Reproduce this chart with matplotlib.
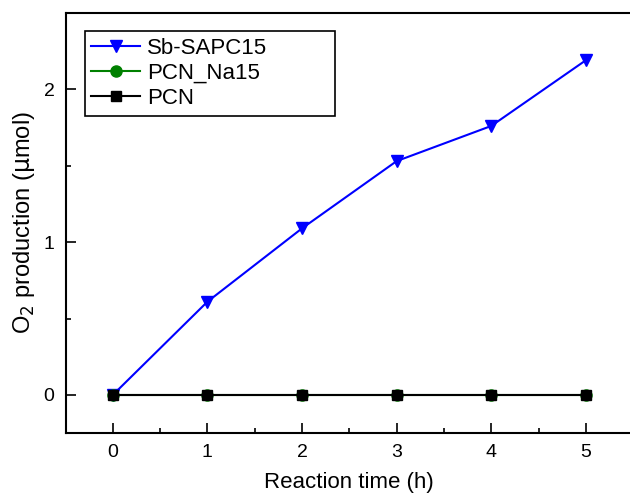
import numpy as np
import matplotlib
matplotlib.use('Agg')
import matplotlib.pyplot as plt
from matplotlib.ticker import MultipleLocator

# Data
time_h = [0, 1, 2, 3, 4, 5]
sb_sapc15 = [0.0, 0.61, 1.09, 1.53, 1.76, 2.19]
pcn_na15 = [0.0, 0.0, 0.0, 0.0, 0.0, 0.0]
pcn = [0.0, 0.0, 0.0, 0.0, 0.0, 0.0]

plt.rcParams['font.family'] = ['Liberation Sans', 'DejaVu Sans']

fig = plt.figure(figsize=(6.3, 4.95), dpi=100)
ax = fig.add_axes([0.104, 0.125, 0.901, 0.849])

ax.plot(time_h, sb_sapc15, color='#0000ff', lw=1.5, marker='v', ms=9,
        label='Sb-SAPC15')
ax.plot(time_h, pcn_na15, color='#008000', lw=1.5, marker='o', ms=8,
        label='PCN_Na15')
ax.plot(time_h, pcn, color='black', lw=1.5, marker='s', ms=7,
        label='PCN')

ax.set_xlim(-0.5, 5.5)
ax.set_ylim(-0.25, 2.5)
ax.xaxis.set_major_locator(MultipleLocator(1))
ax.xaxis.set_minor_locator(MultipleLocator(0.5))
ax.yaxis.set_major_locator(MultipleLocator(1))
ax.yaxis.set_minor_locator(MultipleLocator(0.5))
ax.tick_params(which='both', direction='in', labelsize=14, width=1.2)
ax.tick_params(which='major', length=7, pad=8)
ax.tick_params(which='minor', length=3.5)
for sp in ax.spines.values():
    sp.set_linewidth(1.5)

ax.set_xlabel('Reaction time (h)', fontsize=16, labelpad=8)
ax.set_ylabel(r'O$_2$ production ($\mathrm{\mu}$mol)', fontsize=17, labelpad=5)

# wide Origin-style legend box
leg = ax.legend(loc='upper left', bbox_to_anchor=(0.034, 0.5, 0.44, 0.456),
                mode='expand', borderaxespad=0, fontsize=16, fancybox=False,
                edgecolor='black', framealpha=1, handlelength=2.2,
                handletextpad=0.3, labelspacing=0.18, borderpad=0.3)
leg.get_frame().set_linewidth(1.2)

fig.savefig('out.png', dpi=100)
